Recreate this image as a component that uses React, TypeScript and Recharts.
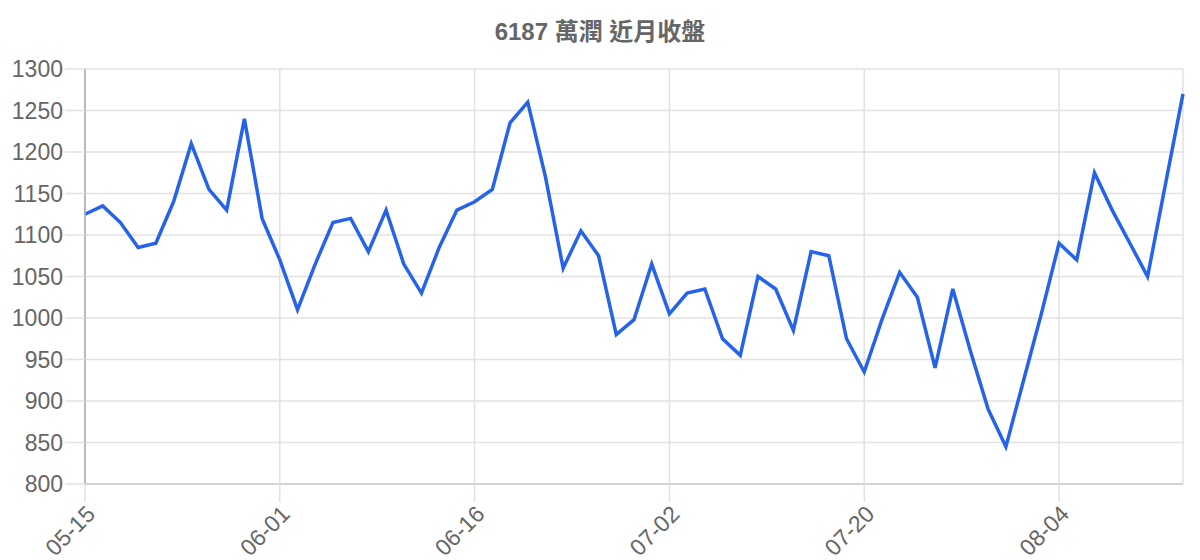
import { CartesianGrid, Line, LineChart, XAxis, YAxis } from "recharts";

const dates = [
  "05-15", "05-18", "05-19", "05-20", "05-21", "05-22", "05-25", "05-26", "05-27", "05-28", "05-29",
  "06-01", "06-02", "06-03", "06-04", "06-05", "06-08", "06-09", "06-10", "06-11", "06-12", "06-15",
  "06-16", "06-17", "06-18", "06-19", "06-22", "06-23", "06-24", "06-26", "06-29", "06-30", "07-01",
  "07-02", "07-03", "07-06", "07-07", "07-08", "07-09", "07-10", "07-13", "07-14", "07-15", "07-17",
  "07-20", "07-21", "07-22", "07-23", "07-24", "07-27", "07-28", "07-29", "07-30", "07-31", "08-03",
  "08-04", "08-05", "08-06", "08-07", "08-10", "08-11", "08-12", "08-13",
];

const closes = [
  1125, 1135, 1115, 1085, 1090, 1140, 1210, 1155, 1130, 1240, 1120,
  1070, 1010, 1065, 1115, 1120, 1080, 1130, 1065, 1030, 1085, 1130,
  1140, 1155, 1235, 1260, 1170, 1060, 1105, 1075, 980, 998, 1065,
  1005, 1030, 1035, 975, 955, 1050, 1035, 985, 1080, 1075, 975,
  935, 998, 1055, 1025, 940, 1035, 960, 890, 845, 925, 1005,
  1090, 1070, 1175, 1130, 1090, 1050, 1160, 1270,
];

const yTicks = [800, 850, 900, 950, 1000, 1050, 1100, 1150, 1200, 1250, 1300];

const title = "6187 萬潤 近月收盤";

const data = dates.map((date, i) => ({ date, close: closes[i] }));

const font = "'Liberation Sans', Arial, 'Noto Sans CJK TC', sans-serif";

export default function App() {
  return (
    <div style={{ position: "relative", width: 1200, height: 560 }}>
      <style>{"body{margin:0}"}</style>
      <div
        style={{
          position: "absolute",
          top: 18,
          left: 0,
          width: 1200,
          textAlign: "center",
          fontFamily: font,
          fontWeight: "bold",
          fontSize: 24,
          lineHeight: "28px",
          color: "#666",
        }}
      >
        {title}
      </div>
      <LineChart
        width={1200}
        height={560}
        data={data}
        margin={{ top: 69, right: 17, left: 0, bottom: 0 }}
      >
        <CartesianGrid stroke="#e2e2e2" strokeWidth={1.5} />
        <XAxis
          dataKey="date"
          interval={10}
          height={76}
          tickSize={18}
          tickLine={{ stroke: "#e2e2e2", strokeWidth: 1.5 }}
          axisLine={{ stroke: "#cccccc", strokeWidth: 1.5 }}
          angle={-45}
          textAnchor="end"
          tick={{ fill: "#666", fontSize: 23, fontFamily: font }}
        />
        <YAxis
          domain={[800, 1300]}
          ticks={yTicks}
          width={85}
          tickSize={20}
          tickLine={{ stroke: "#e2e2e2", strokeWidth: 1.5 }}
          axisLine={{ stroke: "#aaaaaa", strokeWidth: 1.5 }}
          tick={{ fill: "#666", fontSize: 23, fontFamily: font }}
        />
        <Line
          dataKey="close"
          stroke="#2563eb"
          strokeWidth={3.5}
          dot={false}
          isAnimationActive={false}
        />
      </LineChart>
    </div>
  );
}
